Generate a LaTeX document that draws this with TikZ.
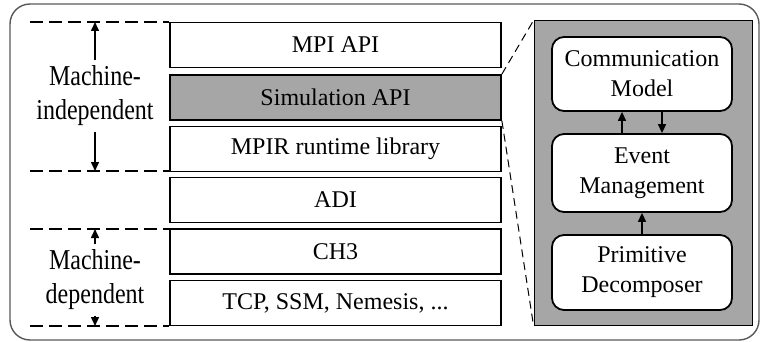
\documentclass[tikz,border=0pt]{standalone}
\usepackage{fontspec}
\setmainfont{Liberation Serif}
\usetikzlibrary{arrows.meta}
\definecolor{panelgray}{HTML}{A6A6A6}
\definecolor{framegray}{HTML}{595959}
\tikzset{
  layer/.style={draw, line width=1.8pt, minimum width=331pt, minimum height=45pt,
    inner sep=0pt, font=\fontsize{24}{28}\selectfont},
  sublayer/.style={draw, line width=1.8pt, rounded corners=12pt, fill=white,
    minimum width=180pt, inner sep=0pt, align=center,
    font=\fontsize{24}{30}\selectfont},
  bound/.style={line width=1.5pt, dash pattern=on 13pt off 6pt},
  zoomline/.style={line width=1pt, dash pattern=on 8pt off 5pt},
  arr/.style={line width=1.5pt, -{Triangle[length=9pt,width=8pt]}},
  sidelabel/.style={inner sep=2pt, font=\fontsize{24}{28}\selectfont}
}
\newcommand{\stretchlabel}[3]{\scalebox{1}[1.2]{\begin{tabular}{@{}c@{}}\fontsize{24}{#3}\selectfont #1\\\fontsize{24}{#3}\selectfont #2\end{tabular}}}
\begin{document}
\begin{tikzpicture}[x=1pt, y=-1pt]
\useasboundingbox (0,0) rectangle (762,342);
% outer frame
\draw[framegray, line width=1.4pt, rounded corners=20pt] (10,4) rectangle (759,340);

% software stack
\node[layer] (mpi) at (335.5,45) {MPI API};
\node[layer, fill=panelgray] (sim) at (335.5,97.5) {Simulation API};
\node[layer] (mpir) at (335.5,149) {MPIR runtime library};
\node[layer] (adi) at (335.5,200) {ADI};
\node[layer] (ch3) at (335.5,251.5) {CH3};
\node[layer] (tcp) at (335.5,303) {TCP, SSM, Nemesis, ...};

% boundary lines on the left
\coordinate (b1) at (30,22);
\coordinate (b2) at (30,171);
\coordinate (b3) at (30,229);
\coordinate (b4) at (30,326);
\draw[bound] (b1) -- (b1 -| mpi.west);
\draw[bound] (b2) -- (b2 -| mpir.west);
\draw[bound] (b3) -- (b3 -| ch3.west);
\draw[bound] (b4) -- (b4 -| tcp.west);

% side labels with range arrows
\coordinate (ax) at (95,0);
\node[sidelabel] (indep) at (95,96) {\stretchlabel{Machine-}{independent}{22}};
\node[sidelabel] (dep) at (95,280) {\stretchlabel{Machine-}{dependent}{23}};
\draw[arr] (indep.north) -- (b1 -| ax);
\draw[arr] (indep.south) -- (b2 -| ax);
\draw[arr] (dep.north) -- (b3 -| ax);
\draw[arr] (dep.south) -- (b4 -| ax);

% expanded view of the simulation layer
\node[draw, line width=1pt, fill=panelgray, minimum width=218pt, minimum height=304pt,
  inner sep=0pt] (panel) at (643,173) {};
\draw[zoomline] (sim.north east) -- (panel.north west);
\draw[zoomline] (sim.south east) -- (panel.south west);

\node[sublayer, minimum height=74pt] (comm) at (642,74) {Communication\\Model};
\node[sublayer, minimum height=78pt] (event) at (642,173) {Event\\Management};
\node[sublayer, minimum height=75pt] (prim) at (642,272.5) {Primitive\\Decomposer};

\draw[arr] ([xshift=-20pt]event.north) -- ([xshift=-20pt]comm.south);
\draw[arr] ([xshift=20pt]comm.south) -- ([xshift=20pt]event.north);
\draw[arr] (prim.north) -- (event.south);
\end{tikzpicture}
\end{document}
